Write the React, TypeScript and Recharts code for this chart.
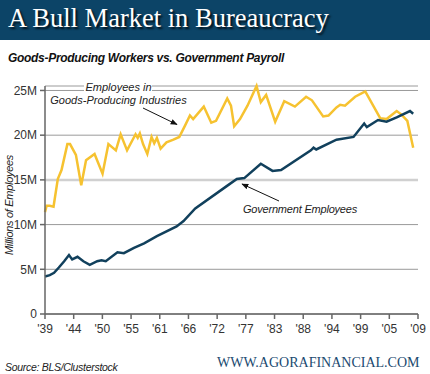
import { LineChart, Line, XAxis, YAxis, CartesianGrid, ReferenceLine } from "recharts";

// values (millions of employees)
const goodsYears = [
  1939, 1939.3, 1939.9, 1940.6, 1941.4, 1942.1, 1943.2, 1943.7, 1944.8, 1945.8,
  1946.7, 1948.3, 1949.8, 1950.9, 1952.3, 1953.2, 1954.4, 1956.0, 1956.4, 1956.8,
  1957.4, 1958.2, 1959.0, 1959.5, 1960.0, 1960.7, 1961.8, 1963.1, 1964.2, 1965.3,
  1966.2, 1966.8, 1968.8, 1970.2, 1971.1, 1973.2, 1973.9, 1974.5, 1975.6, 1977.0,
  1978.7, 1979.5, 1980.5, 1982.2, 1983.9, 1985.9, 1988.0, 1989.1, 1991.2, 1992.2,
  1993.7, 1994.4, 1995.3, 1997.2, 1999.1, 2001.9, 2003.1, 2005.0, 2005.9, 2007.0,
  2008.1,
];
const goodsValues = [
  11.4, 12.1, 12.1, 12.0, 15.1, 16.1, 19.0, 19.0, 17.8, 14.4,
  17.2, 17.9, 15.7, 19.0, 18.3, 20.1, 18.3, 20.1, 19.7, 20.2,
  19.0, 17.9, 19.8, 19.1, 19.7, 18.5, 19.2, 19.5, 19.8, 21.1,
  22.2, 21.8, 23.2, 21.4, 21.6, 24.1, 23.3, 21.0, 21.8, 23.3,
  25.5, 23.7, 24.5, 21.5, 23.8, 23.2, 24.3, 23.9, 22.1, 22.2,
  23.1, 23.4, 23.3, 24.3, 24.9, 21.9, 21.8, 22.7, 22.3, 21.6,
  18.6,
];

const govYears = [
  1939, 1939.9, 1940.7, 1941.6, 1942.6, 1943.5, 1944.1, 1945.1, 1946.2, 1947.4,
  1948.8, 1949.6, 1950.4, 1952.6, 1953.8, 1955.7, 1957.6, 1960.0, 1963.7, 1965.0,
  1967.2, 1973.1, 1975.0, 1976.4, 1979.5, 1981.7, 1983.3, 1988.9, 1989.4, 1989.9,
  1993.7, 1996.9, 1998.9, 1999.4, 2001.5, 2003.1, 2005.0, 2007.5, 2008.1,
];
const govValues = [
  4.2, 4.35, 4.6, 5.2, 5.9, 6.6, 6.1, 6.4, 5.9, 5.5,
  5.9, 6.0, 5.9, 6.9, 6.8, 7.4, 7.9, 8.7, 9.8, 10.4,
  11.8, 14.3, 15.1, 15.2, 16.8, 16.0, 16.1, 18.3, 18.6, 18.4,
  19.5, 19.8, 21.3, 20.9, 21.7, 21.5, 22.0, 22.7, 22.4,
];

const xTickLabels = ["'39", "'44", "'50", "'55", "'61", "'66", "'72", "'77", "'83", "'88", "'94", "'99", "'05", "'09"];
const yTicks = [0, 5, 10, 15, 20, 25];

const goods = goodsYears.map((year, i) => ({ year, value: goodsValues[i] }));
const gov = govYears.map((year, i) => ({ year, value: govValues[i] }));

// labels sit at even spacing across 1939-2009
const xTicks = xTickLabels.map((_, i) => 1939 + (i * 70) / (xTickLabels.length - 1));

const sans = "'Liberation Sans', Arial, sans-serif";
const serif = "'Liberation Serif', 'Times New Roman', serif";
const navy = "#0c4467";

export default function App() {
  return (
    <div
      style={{
        position: "absolute",
        left: 0,
        top: 0,
        width: 430,
        height: 374,
        background: "#fff",
        overflow: "hidden",
        fontFamily: sans,
      }}
    >
      <div
        style={{
          position: "absolute",
          left: 0,
          top: 0,
          width: 430,
          height: 40,
          background: navy,
        }}
      >
        <div
          style={{
            position: "absolute",
            left: 8,
            top: 3,
            fontFamily: serif,
            fontSize: 26.5,
            color: "#fff",
            whiteSpace: "nowrap",
            textShadow: "2px 2px 2px rgba(0,0,0,0.75)",
          }}
        >
          A Bull Market in Bureaucracy
        </div>
      </div>
      <div
        style={{
          position: "absolute",
          left: 8,
          top: 51,
          fontSize: 12,
          fontWeight: "bold",
          fontStyle: "italic",
          color: "#111",
          whiteSpace: "nowrap",
          letterSpacing: -0.3,
        }}
      >
        Goods-Producing Workers vs. Government Payroll
      </div>

      <div style={{ position: "absolute", left: 0, top: 0 }}>
        <LineChart width={430} height={374} margin={{ top: 86, right: 12, bottom: 30, left: 0 }}>
          <CartesianGrid horizontal vertical={false} stroke="#9a9a9a" strokeWidth={1} />
          <ReferenceLine y={15} stroke="#d0d0d0" strokeWidth={2.5} />
          <XAxis
            type="number"
            dataKey="year"
            domain={[1939, 2009]}
            ticks={xTicks}
            interval={0}
            tickFormatter={(_v, i) => xTickLabels[i]}
            height={30}
            tickSize={5}
            tickMargin={5}
            stroke="#666"
            strokeWidth={1.5}
            tick={{ fill: "#333", fontSize: 12, fontFamily: sans }}
          />
          <YAxis
            type="number"
            domain={[0, 25]}
            ticks={yTicks}
            interval={0}
            width={45}
            tickSize={5}
            tickMargin={3}
            tickFormatter={(v) => (v === 0 ? "0" : `${v}M`)}
            stroke="#666"
            strokeWidth={1.5}
            tick={{ fill: "#333", fontSize: 12, fontFamily: sans }}
          />
          <Line
            data={goods}
            dataKey="value"
            type="linear"
            stroke="#f6c230"
            strokeWidth={2.5}
            dot={false}
            isAnimationActive={false}
          />
          <Line
            data={gov}
            dataKey="value"
            type="linear"
            stroke="#11405c"
            strokeWidth={2.5}
            dot={false}
            isAnimationActive={false}
          />
        </LineChart>
      </div>

      <svg
        width={430}
        height={374}
        style={{ position: "absolute", left: 0, top: 0, pointerEvents: "none" }}
      >
        <defs>
          <marker id="head" viewBox="0 0 10 10" refX="9" refY="5" markerWidth="7" markerHeight="7" orient="auto">
            <path d="M0,1 L10,5 L0,9 z" fill="#111" />
          </marker>
        </defs>
        <text
          x={10}
          y={205}
          transform="rotate(-90 10 205)"
          textAnchor="middle"
          dominantBaseline="middle"
          fontSize={11}
          letterSpacing={-0.3}
          fontStyle="italic"
          fill="#222"
          fontFamily={sans}
        >
          Millions of Employees
        </text>
        <rect x={84} y={80} width={68} height={13} fill="#fff" />
        <text x={118.5} y={91} textAnchor="middle" fontSize={11} fontStyle="italic" fill="#222" fontFamily={sans}>
          Employees in
        </text>
        <text x={118.5} y={103.5} textAnchor="middle" fontSize={11} fontStyle="italic" fill="#222" fontFamily={sans}>
          Goods-Producing Industries
        </text>
        <line x1={143} y1={108} x2={177} y2={124.5} stroke="#111" strokeWidth={1} markerEnd="url(#head)" />
        <text x={243} y={212.5} fontSize={11} letterSpacing={-0.2} fontStyle="italic" fill="#222" fontFamily={sans}>
          Government Employees
        </text>
        <line x1={279} y1={201} x2={242} y2={184} stroke="#111" strokeWidth={1} markerEnd="url(#head)" />
      </svg>

      <div
        style={{
          position: "absolute",
          left: 5,
          top: 361,
          fontSize: 10.5,
          fontStyle: "italic",
          color: "#222",
          whiteSpace: "nowrap",
          letterSpacing: -0.3,
        }}
      >
        Source: BLS/Clusterstock
      </div>
      <div
        style={{
          position: "absolute",
          left: 217,
          top: 355,
          fontFamily: serif,
          fontSize: 14,
          color: "#1b4a70",
          whiteSpace: "nowrap",
        }}
      >
        WWW.AGORAFINANCIAL.COM
      </div>
    </div>
  );
}
